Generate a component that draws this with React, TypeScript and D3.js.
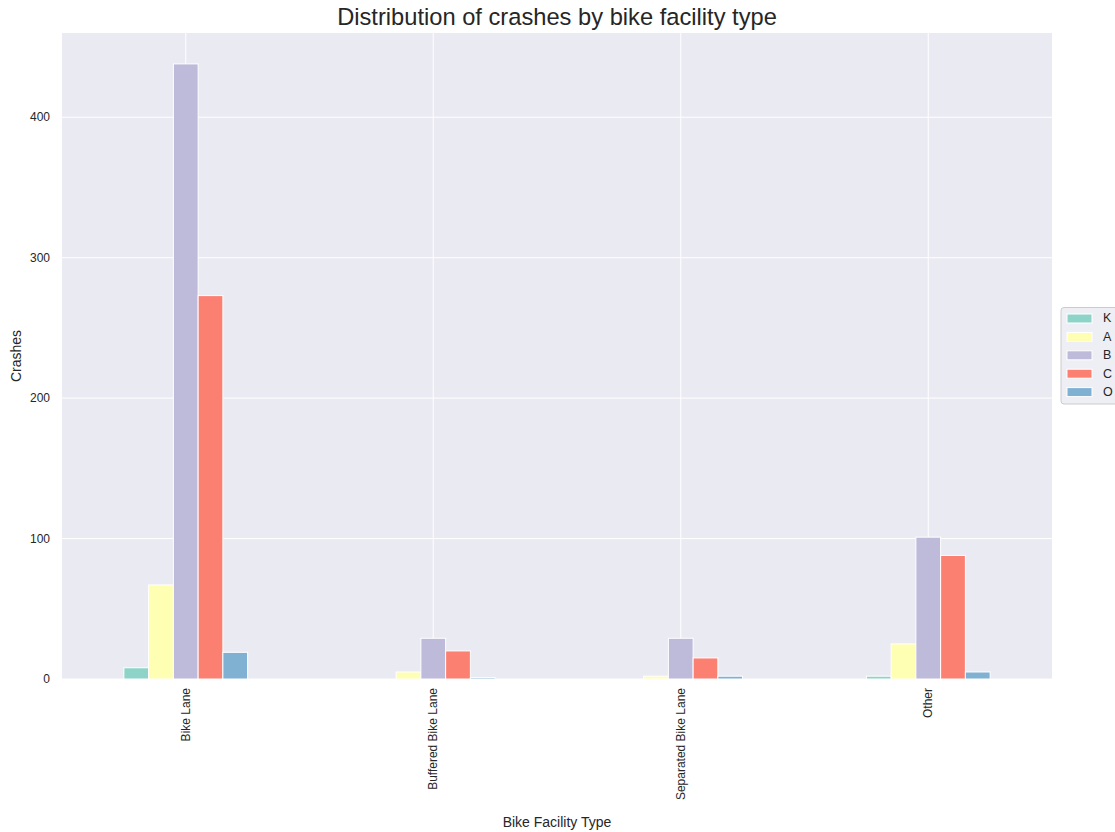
import React from "react";
import * as d3 from "d3";

const categories = ["Bike Lane", "Buffered Bike Lane", "Separated Bike Lane", "Other"];
const seriesNames = ["K", "A", "B", "C", "O"];
const seriesK = [8, 0, 0, 2];
const seriesA = [67, 5, 2, 25];
const seriesB = [438, 29, 29, 101];
const seriesC = [273, 20, 15, 88];
const seriesO = [19, 1, 2, 5];
const seriesColors = ["#8dd3c7", "#ffffb3", "#bebada", "#fb8072", "#80b1d3"];
const yTicks = [0, 100, 200, 300, 400];

const W = 1115;
const H = 832;
const left = 62;
const right = 1052;
const top = 33;
const bottom = 679;
const FONT = "'Liberation Sans', Arial, Helvetica, sans-serif";

export default function App() {
  const series = [seriesK, seriesA, seriesB, seriesC, seriesO];
  const x = d3.scaleLinear().domain([-0.5, categories.length - 0.5]).range([left, right]);
  const y = d3.scaleLinear().domain([0, 460]).range([bottom, top]);
  const barW = 0.1;

  return (
    <svg width={W} height={H} style={{ position: "absolute", left: 0, top: 0, background: "#fff" }}>
      <rect x={left} y={top} width={right - left} height={bottom - top} fill="#eaeaf2" />
      {yTicks.map((t) => (
        <line key={"gy" + t} x1={left} x2={right} y1={y(t)} y2={y(t)} stroke="#fff" strokeWidth={1} />
      ))}
      {categories.map((c, i) => (
        <line key={"gx" + i} x1={x(i)} x2={x(i)} y1={top} y2={bottom} stroke="#fff" strokeWidth={1} />
      ))}
      {series.map((vals, s) =>
        vals.map((v, i) => {
          const x0 = x(i - 0.25 + s * barW);
          const x1 = x(i - 0.25 + (s + 1) * barW);
          return (
            <rect
              key={s + "-" + i}
              x={x0}
              y={y(v)}
              width={x1 - x0}
              height={y(0) - y(v)}
              fill={seriesColors[s]}
              stroke="#fff"
              strokeWidth={1}
            />
          );
        })
      )}
      {yTicks.map((t) => (
        <text key={"ty" + t} x={left - 12} y={y(t)} dy="0.35em" textAnchor="end" fontFamily={FONT} fontSize={12} fill="#262626">
          {t}
        </text>
      ))}
      {categories.map((c, i) => (
        <text
          key={"tx" + i}
          transform={`translate(${x(i)},${bottom + 9}) rotate(-90)`}
          textAnchor="end"
          dy="0.35em"
          fontFamily={FONT}
          fontSize={12}
          fill="#262626"
        >
          {c}
        </text>
      ))}
      <text x={(left + right) / 2} y={25} textAnchor="middle" fontFamily={FONT} fontSize={23.7} fill="#262626">
        Distribution of crashes by bike facility type
      </text>
      <text x={(left + right) / 2} y={827} textAnchor="middle" fontFamily={FONT} fontSize={14} fill="#262626">
        Bike Facility Type
      </text>
      <text transform={`translate(21,${(top + bottom) / 2}) rotate(-90)`} textAnchor="middle" fontFamily={FONT} fontSize={14} fill="#262626">
        Crashes
      </text>
      <g>
        <rect x={1061} y={307.5} width={70} height={96.5} rx={3} fill="#eaeaf2" fillOpacity={0.8} stroke="#cccccc" strokeWidth={1} />
        {seriesNames.map((n, s) => (
          <g key={"lg" + n} transform={`translate(0,${318 + s * 18.4})`}>
            <rect x={1067} y={-4} width={25} height={9} fill={seriesColors[s]} stroke="#fff" strokeWidth={1} />
            <text x={1103} y={0} dy="0.35em" fontFamily={FONT} fontSize={12.5} fill="#262626">
              {n}
            </text>
          </g>
        ))}
      </g>
    </svg>
  );
}
